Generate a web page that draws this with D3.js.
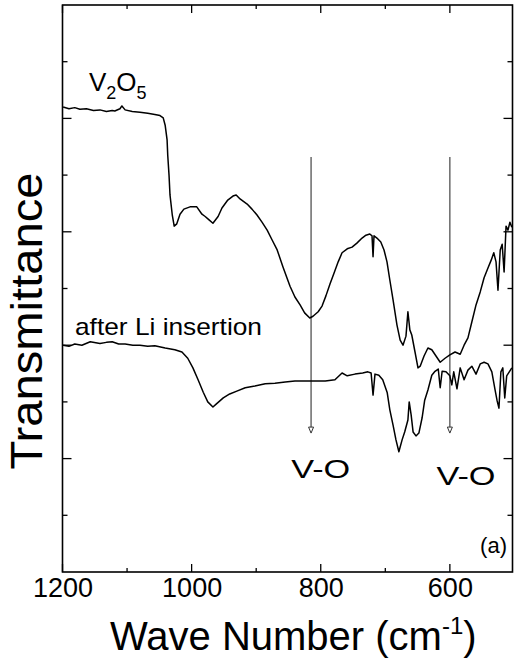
<!DOCTYPE html>
<html><head><meta charset="utf-8">
<script src="https://cdn.jsdelivr.net/npm/d3@7"></script>
<style>body{margin:0;background:#fff}svg{display:block}text{font-family:"Liberation Sans",Arial,sans-serif;fill:#000}</style>
</head><body><svg id="c" width="516" height="661"></svg>
<script>
// Wave number (cm^-1) and transmittance (a.u.)
const v2o5X = [1199,1190,1181,1173,1163,1152,1142,1132,1123,1119,1111,1108,1103,1092,1080,1068,1057,1049,1044,1041,1038,1037,1035,1033.5,1030,1027,1023,1018,1012,1002.5,992,984,979,973,967,959,953,944,936,931,925,914,906.5,899,891,883,875.5,867.5,858.5,847.6,840,832,825,817,812,804,798,792,785.7,779.5,773,767,759,751.5,744,736,730,724,720.6,719,717.5,713,707,702,697.4,693,688,682,677,672.6,668,665,662,659,654,649.4,646,640,634,628,621.5,615,607.5,600,592,584,578,572,566,559.5,553,547,541,536,532,528.5,525.5,522,519,516,513,510,507,504];
const v2o5Y = [8.20,8.17,8.19,8.16,8.17,8.14,8.15,8.12,8.14,8.13,8.17,8.22,8.15,8.12,8.11,8.09,8.07,8.05,8.01,7.88,7.62,7.35,7.00,6.65,6.30,6.10,6.14,6.31,6.40,6.44,6.44,6.31,6.27,6.21,6.15,6.27,6.42,6.56,6.63,6.65,6.58,6.49,6.40,6.30,6.17,6.03,5.86,5.68,5.38,5.04,4.85,4.71,4.57,4.48,4.51,4.59,4.69,4.87,5.08,5.27,5.47,5.63,5.70,5.73,5.80,5.89,5.94,5.96,5.93,5.56,5.93,5.89,5.82,5.68,5.47,5.15,4.80,4.36,4.09,4.00,4.16,4.59,4.27,4.18,3.88,3.60,3.63,3.81,3.95,3.92,3.81,3.70,3.77,3.83,3.88,3.84,4.00,4.13,4.41,4.71,4.94,5.19,5.36,5.50,5.63,5.47,4.97,5.68,5.78,5.29,6.10,6.03,6.17,6.08];
const liX = [1199,1190,1181,1170,1157,1142,1132,1123,1113,1103,1091,1080,1068,1057,1041,1026,1015,1006,998,990,982,975,967,962,951,941,930,917,902,886,871,855,840,824,809,793,778,767,759,747,735,727,722,719,716,710,704,697,693,688,683.5,679,674,670,665,663,660,657,652.5,648,643,639,634,628,623,618,615,612,606,600,597,594,589,584,578,572,566,559.5,553,547,541,535,530,527,524,521,518,515,512,508,504];
const liY = [4.00,3.98,4.02,4.00,4.06,4.03,4.05,4.06,4.02,4.02,4.00,4.00,3.98,3.99,3.95,3.92,3.88,3.77,3.60,3.39,3.17,3.00,2.91,2.96,3.07,3.14,3.19,3.25,3.28,3.32,3.33,3.35,3.37,3.37,3.37,3.37,3.39,3.51,3.46,3.49,3.51,3.53,3.51,3.12,3.49,3.47,3.39,3.16,2.86,2.59,2.33,2.12,2.33,2.47,2.68,3.00,2.77,2.47,2.40,2.45,2.72,3.03,3.21,3.47,3.54,3.58,3.25,3.54,3.53,3.46,3.30,3.53,3.23,3.60,3.39,3.56,3.63,3.49,3.67,3.70,3.67,3.53,3.21,3.03,2.89,3.53,3.60,3.07,3.46,3.53,3.60];
const xTicksMajor = [1200,1000,800,600];
const xTicksMinor = [1100,900,700];
const yTicksMajor = [2,4,6,8];
const yTicksMinor = [1,3,5,7,9];
const arrowX = [815,600];
const arrowTop = 7.32, arrowTip = 2.45;
const peakLabels = ["V-O","V-O"];
const peakLabelX = [800,575];
const peakLabelY = [1.65,1.53];

const svg = d3.select("#c");
const L=62.5, R=512.5, T=5, B=572;
const x = d3.scaleLinear().domain([1200,503]).range([L,R]);
const y = d3.scaleLinear().domain([0,10]).range([B,T]);

// ticks (inward, mirrored)
const tk = svg.append("g").attr("stroke","#000").attr("stroke-width",1.3);
xTicksMajor.concat(xTicksMinor).forEach(v=>{
  const len = xTicksMajor.includes(v)?8:4;
  tk.append("line").attr("x1",x(v)).attr("x2",x(v)).attr("y1",B).attr("y2",B-len);
  tk.append("line").attr("x1",x(v)).attr("x2",x(v)).attr("y1",T).attr("y2",T+len);
});
yTicksMajor.concat(yTicksMinor).forEach(v=>{
  const len = yTicksMajor.includes(v)?9:5;
  tk.append("line").attr("x1",L).attr("x2",L+len).attr("y1",y(v)).attr("y2",y(v));
  tk.append("line").attr("x1",R).attr("x2",R-len).attr("y1",y(v)).attr("y2",y(v));
});
// bottom axis labels
const ax = d3.axisBottom(x).tickValues(xTicksMajor).tickSize(0).tickPadding(0).tickFormat(d3.format("d"));
const g = svg.append("g").attr("transform",`translate(0,${B})`).call(ax);
g.select(".domain").remove();
g.selectAll("text").attr("font-size",27).attr("dy",null).attr("y",25).attr("font-family","Liberation Sans, Arial, sans-serif").attr("fill","#000");

// frame
svg.append("rect").attr("x",L).attr("y",T).attr("width",R-L).attr("height",B-T)
  .attr("fill","none").attr("stroke","#000").attr("stroke-width",1.6);

// arrows
const ag = svg.append("g");
arrowX.forEach(v=>{
  ag.append("line").attr("x1",x(v)).attr("x2",x(v)).attr("y1",y(arrowTop)).attr("y2",y(arrowTip)-5)
    .attr("stroke","#333").attr("stroke-width",1.1);
  ag.append("path").attr("d",`M${x(v)-2.5},${y(arrowTip)-6}L${x(v)+2.5},${y(arrowTip)-6}L${x(v)},${y(arrowTip)}Z`)
    .attr("fill","#fff").attr("stroke","#333").attr("stroke-width",1);
});

// curves
const line = d3.line().x(d=>x(d[0])).y(d=>y(d[1]));
svg.append("path").datum(d3.zip(v2o5X,v2o5Y)).attr("d",line)
  .attr("fill","none").attr("stroke","#000").attr("stroke-width",1.5).attr("stroke-linejoin","round");
svg.append("path").datum(d3.zip(liX,liY)).attr("d",line)
  .attr("fill","none").attr("stroke","#000").attr("stroke-width",1.5).attr("stroke-linejoin","round");

// labels
const t1 = svg.append("text").attr("x",89).attr("y",91).attr("font-size",26);
t1.append("tspan").text("V");
t1.append("tspan").attr("font-size",18).attr("dy",8).text("2");
t1.append("tspan").attr("dy",-8).text("O");
t1.append("tspan").attr("font-size",18).attr("dy",8).text("5");
svg.append("text").attr("x",75).attr("y",335).attr("font-size",24)
  .attr("textLength",187).attr("lengthAdjust","spacingAndGlyphs").text("after Li insertion");
peakLabels.forEach((s,i)=>{
  svg.append("text").attr("x",x(peakLabelX[i])).attr("y",y(peakLabelY[i])).attr("text-anchor","middle")
    .attr("font-size",26).attr("textLength",59).attr("lengthAdjust","spacingAndGlyphs").text(s);
});
svg.append("text").attr("x",507).attr("y",553).attr("text-anchor","end").attr("font-size",22).text("(a)");

// axis titles
svg.append("text").attr("transform","translate(42,321) rotate(-90)").attr("text-anchor","middle")
  .attr("font-size",44).attr("textLength",297).attr("lengthAdjust","spacingAndGlyphs").text("Transmittance");
const xt = svg.append("text").attr("x",110).attr("y",650).attr("font-size",40);
xt.append("tspan").text("Wave Number (cm");
xt.append("tspan").attr("font-size",24).attr("dy",-16).text("-1");
xt.append("tspan").attr("dy",16).text(")");
</script></body></html>
